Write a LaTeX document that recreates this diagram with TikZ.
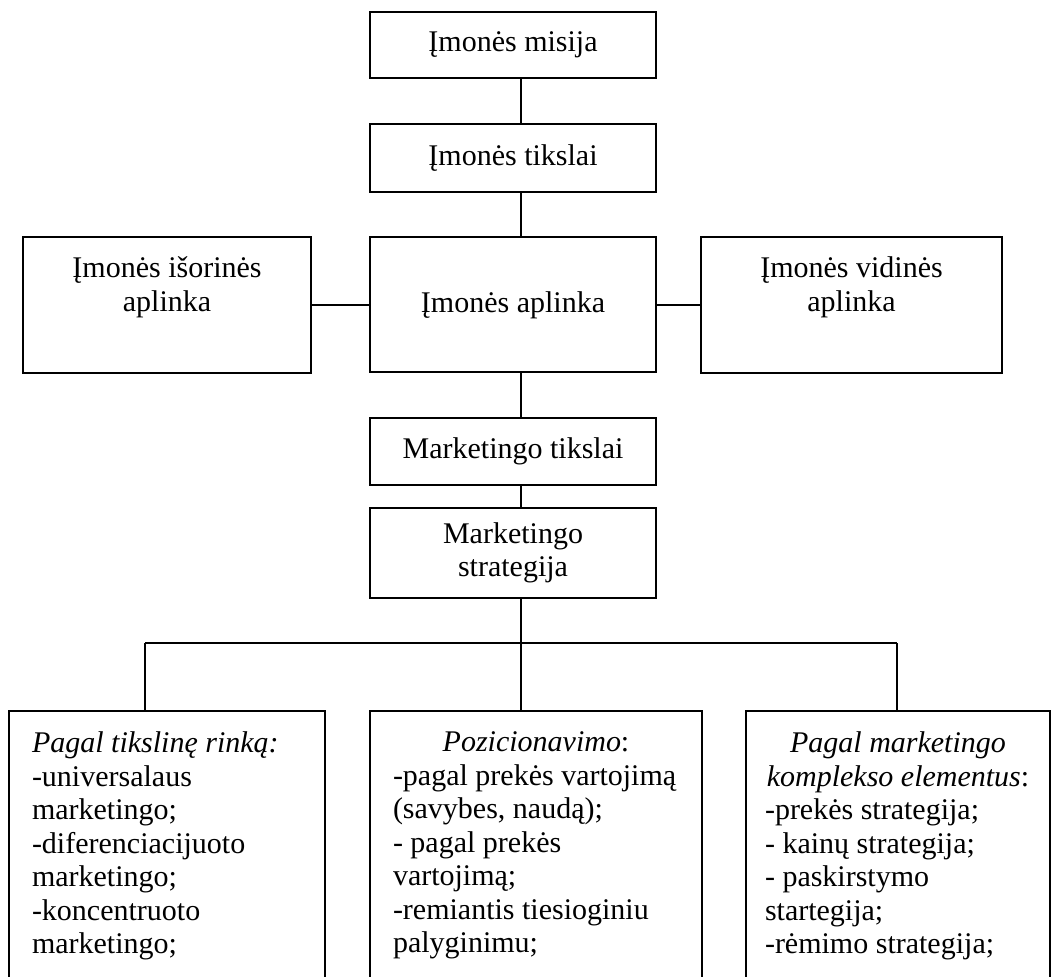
\documentclass[tikz,border=0pt]{standalone}
\usepackage{fontspec}
\setmainfont{Liberation Serif}
\newlength\upx
\setlength\upx{0.4pt}

\begin{document}
\begin{tikzpicture}[x=0.4pt,y=0.4pt,yscale=-1,xscale=1,
        line width=0.8pt,
        font=\fontsize{12pt}{13.4pt}\selectfont,
        box/.style={draw, rectangle, inner sep=0pt, align=center},
        listbox/.style={draw, rectangle, anchor=north, inner ysep=0pt}]
        \useasboundingbox (0,0) rectangle (1051,977);
        \clip (0,0) rectangle (1051,977);

        % upper chain
        \node [box, minimum width=286\upx, minimum height=66\upx] (misija) at (513,45) {Įmonės misija};
        \node [box, minimum width=286\upx, minimum height=68\upx] (tikslai) at (513,158) {Įmonės tikslai};
        \node [box, minimum width=286\upx, minimum height=135\upx] (aplinka) at (513,305) {Įmonės aplinka};
        \node [box] (isorine) at (167,305) {\parbox[c][136\upx][t]{288\upx}{\vspace*{20\upx}\centering Įmonės išorinės\\ aplinka}};
        \node [box] (vidine) at (851.5,305) {\parbox[c][136\upx][t]{301\upx}{\vspace*{20\upx}\centering Įmonės vidinės\\ aplinka}};
        \node [box, minimum width=286\upx, minimum height=67\upx] (mtikslai) at (513,451.5) {Marketingo tikslai};
        \node [box, minimum width=286\upx, minimum height=90\upx] (strategija) at (513,553) {Marketingo\\ strategija};

        % lower boxes, cut off by the page edge
        \node [listbox, inner xsep=23\upx] (rinka) at (167,710) {\parbox[c][300\upx][t]{270\upx}{\vspace*{21\upx}\raggedright
            \textit{Pagal tikslinę rinką:}\\
            -universalaus\\
            marketingo;\\
            -diferenciacijuoto\\
            marketingo;\\
            -koncentruoto\\
            marketingo;}};
        \node [listbox, inner xsep=23\upx] (pozicion) at (536,710) {\parbox[c][300\upx][t]{286\upx}{\vspace*{21\upx}\raggedright
            \makebox[\linewidth]{\textit{Pozicionavimo}:}\\
            -pagal prekės vartojimą\\
            (savybes, naudą);\\
            - pagal prekės\\
            vartojimą;\\
            -remiantis tiesioginiu\\
            palyginimu;}};
        \node [listbox, inner xsep=19\upx] (kompleks) at (898,710) {\parbox[c][300\upx][t]{266\upx}{\vspace*{21\upx}\raggedright
            \makebox[\linewidth]{\textit{Pagal marketingo}}\\
            \makebox[\linewidth]{\textit{komplekso elementus}:}\\
            -prekės strategija;\\
            - kainų strategija;\\
            - paskirstymo\\
            startegija;\\
            -rėmimo strategija;}};

        % connectors
        \coordinate (spine) at (521,0);
        \coordinate (fork) at (521,643);
        \coordinate (dropL) at (145,643);
        \coordinate (dropR) at (897,643);
        \draw (misija.south -| spine) -- (tikslai.north -| spine);
        \draw (tikslai.south -| spine) -- (aplinka.north -| spine);
        \draw (isorine.east) -- (aplinka.west);
        \draw (aplinka.east) -- (vidine.west);
        \draw (aplinka.south -| spine) -- (mtikslai.north -| spine);
        \draw (mtikslai.south -| spine) -- (strategija.north -| spine);
        \draw (strategija.south -| spine) -- (fork);
        \draw (dropL) -- (dropR);
        \draw (dropL) -- (dropL |- rinka.north);
        \draw (fork) -- (fork |- pozicion.north);
        \draw (dropR) -- (dropR |- kompleks.north);
\end{tikzpicture}
\end{document}
